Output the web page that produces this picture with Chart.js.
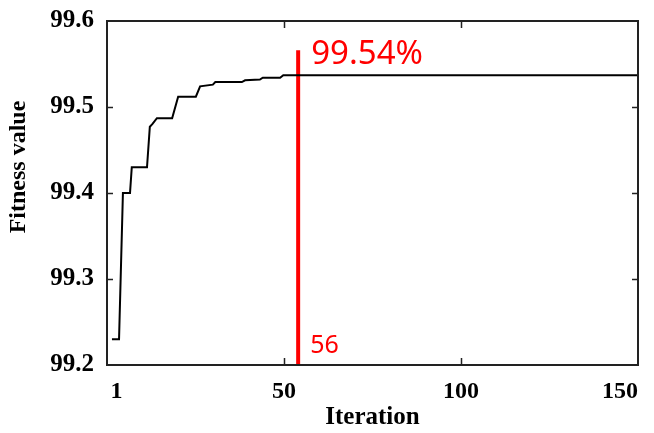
<!DOCTYPE html>
<html>
<head>
<meta charset="utf-8">
<script src="https://cdn.jsdelivr.net/npm/chart.js@4"></script>
<style>
  html, body { margin: 0; padding: 0; background: #fff; }
  #wrap { width: 654px; height: 433px; }
</style>
</head>
<body>
<div id="wrap"><canvas id="chart" width="654" height="433"></canvas></div>
<script>
// values
const iterations = [1.4, 3.4, 4.5, 6.5, 7.0, 11.3, 12.1, 12.8, 14.1, 18.4, 20.1, 25.1, 26.3, 29.9, 30.6, 38.1, 39.0, 43.2, 44.0, 48.9, 49.8, 150];
const fitness    = [99.230, 99.230, 99.400, 99.400, 99.430, 99.430, 99.477, 99.480, 99.487, 99.487, 99.512, 99.512, 99.524, 99.526, 99.529, 99.529, 99.531, 99.532, 99.534, 99.534, 99.537, 99.537];
const xTicks = [1, 50, 100, 150];
const yTicks = [99.2, 99.3, 99.4, 99.5, 99.6];
const bestIter = 54;
const bestLineTop = 99.566;
const bestLabel = '99.54%';
const iterLabel = '56';

const serif = 'bold 24px "Liberation Serif", "Times New Roman", serif';

// frame, inward ticks, y title, red notes
const extras = {
  id: 'extras',
  afterDraw(chart) {
    const ctx = chart.ctx;
    const a = chart.chartArea;
    const xs = chart.scales.x, ys = chart.scales.y;
    ctx.save();
    ctx.strokeStyle = '#222';
    ctx.lineWidth = 2;
    ctx.strokeRect(a.left, a.top, a.right - a.left, a.bottom - a.top);
    ctx.beginPath();
    [50, 100].forEach(v => {
      const px = Math.round(xs.getPixelForValue(v)) + 0.5;
      ctx.moveTo(px, a.bottom); ctx.lineTo(px, a.bottom - 7);
      ctx.moveTo(px, a.top); ctx.lineTo(px, a.top + 7);
    });
    [99.3, 99.4, 99.5].forEach(v => {
      const py = Math.round(ys.getPixelForValue(v)) + 0.5;
      ctx.moveTo(a.left, py); ctx.lineTo(a.left + 6, py);
      ctx.moveTo(a.right, py); ctx.lineTo(a.right - 6, py);
    });
    ctx.lineWidth = 1.5;
    ctx.stroke();

    ctx.fillStyle = '#000';
    ctx.font = serif;
    ctx.translate(19, 167);
    ctx.rotate(-Math.PI / 2);
    ctx.textAlign = 'center';
    ctx.textBaseline = 'middle';
    ctx.fillText('Fitness value', 0, 0);
    ctx.restore();

    ctx.save();
    ctx.fillStyle = '#ff0000';
    ctx.textAlign = 'left';
    ctx.textBaseline = 'alphabetic';
    const lx = xs.getPixelForValue(bestIter);
    ctx.font = '33px "Noto Sans", sans-serif';
    ctx.fillText(bestLabel, lx + 13, 64);
    ctx.font = '25px "Noto Sans", sans-serif';
    ctx.fillText(iterLabel, lx + 12, 353);
    ctx.restore();
  }
};

new Chart(document.getElementById('chart'), {
  type: 'line',
  data: {
    datasets: [
      {
        data: iterations.map((x, i) => ({ x: x, y: fitness[i] })),
        borderColor: '#000',
        borderWidth: 2,
        pointRadius: 0,
        tension: 0
      },
      {
        data: [{ x: bestIter, y: 99.2 }, { x: bestIter, y: bestLineTop }],
        borderColor: '#ff0000',
        borderWidth: 4,
        pointRadius: 0
      }
    ]
  },
  options: {
    responsive: false,
    animation: false,
    layout: { padding: { left: 0, top: 21, right: 16, bottom: 0 } },
    plugins: { legend: { display: false }, tooltip: { enabled: false } },
    scales: {
      x: {
        type: 'linear',
        min: 0,
        max: 150,
        afterBuildTicks: s => { s.ticks = xTicks.map(v => ({ value: v })); },
        afterFit: s => { s.height = 433 - 365; s.paddingLeft = 0; s.paddingRight = 0; },
        grid: { display: false, drawTicks: false },
        border: { display: false },
        ticks: { color: '#000', font: { family: '"Liberation Serif", serif', size: 24, weight: 'bold' }, padding: 12, maxRotation: 0, align: 'inner' },
        title: { display: true, text: 'Iteration', color: '#000', font: { family: '"Liberation Serif", serif', size: 25, weight: 'bold' }, padding: { top: 8, bottom: 0 } }
      },
      y: {
        min: 99.2,
        max: 99.6,
        afterBuildTicks: s => { s.ticks = yTicks.map(v => ({ value: v })); },
        afterFit: s => { s.width = 107; s.paddingTop = 0; s.paddingBottom = 0; },
        grid: { display: false, drawTicks: false },
        border: { display: false },
        ticks: { color: '#000', font: { family: '"Liberation Serif", serif', size: 25, weight: 'bold' }, padding: 13, callback: v => v.toFixed(1) }
      }
    }
  },
  plugins: [extras]
});
</script>
</body>
</html>
